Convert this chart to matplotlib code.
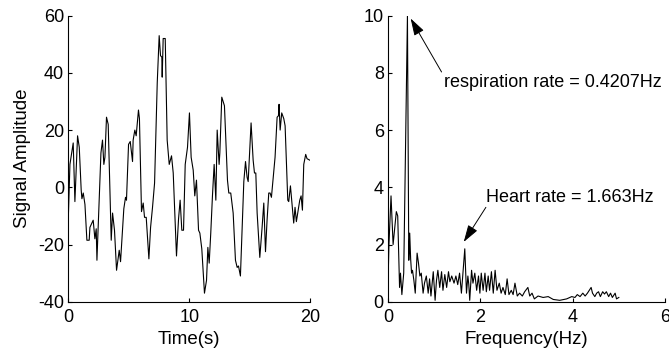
import matplotlib.pyplot as plt

plt.rcParams['font.family'] = ['Liberation Sans', 'DejaVu Sans']
plt.rcParams['axes.unicode_minus'] = False

# time signal
t = [0.0, 0.14, 0.41, 0.55, 0.77, 0.91, 1.07, 1.13, 1.24, 1.38, 1.54, 1.73, 1.79,
     2.06, 2.20, 2.31, 2.37, 2.70, 2.83, 2.94, 3.03, 3.16, 3.30, 3.55, 3.66, 3.82,
     3.99, 4.21, 4.32, 4.59, 4.73, 4.81, 4.98, 5.12, 5.31, 5.36, 5.50, 5.61, 5.80,
     5.88, 6.05, 6.19, 6.30, 6.44, 6.66, 6.80, 6.96, 7.13, 7.35, 7.51, 7.62, 7.73,
     7.76, 7.84, 8.01, 8.17, 8.34, 8.53, 8.67, 8.94, 9.11, 9.24, 9.38, 9.52, 9.66,
     9.85, 10.01, 10.15, 10.32, 10.45, 10.59, 10.76, 10.87, 11.03, 11.25, 11.42,
     11.53, 11.64, 11.77, 11.91, 12.05, 12.19, 12.30, 12.46, 12.52, 12.68, 12.90,
     13.15, 13.26, 13.42, 13.62, 13.81, 13.95, 14.06, 14.22, 14.36, 14.50, 14.64,
     14.77, 14.86, 15.10, 15.27, 15.38, 15.49, 15.60, 15.82, 16.01, 16.15, 16.29,
     16.42, 16.56, 16.67, 16.78, 17.08, 17.25, 17.36, 17.41, 17.50, 17.63, 17.80,
     17.91, 18.13, 18.21, 18.35, 18.51, 18.62, 18.73, 18.84, 19.12, 19.23, 19.34,
     19.45, 19.61, 19.72, 19.94]
amp = [-11.5, 8, 15.5, -5, 18, 14, -1, -4, -2, -6, -18.5, -18.5, -14,
       -11.5, -18, -14.5, -25.5, 12, 16.5, 8, 10.5, 24.5, 22, -18.5, -9, -15,
       -29, -22, -26, -7.5, -3.5, -4.5, 15, 16, 9, 16.5, 20, 18, 27,
       24, -8.5, -5.5, -10.5, -10.5, -25, -14, -7, 1.5, 36.5, 53, 46, 45.5,
       38.5, 52, 52, 16.5, 8, 11, 5, -24, -11, -4.5, -15, -15, 8,
       14, 26, 10.5, 6, -3, 2.5, -15, -16, -21.5, -37, -32.5,
       -21, -26.5, -16, -3, 8, -4.5, 20, 8, 12, 31.5, 28.5,
       2.5, -2, -2, -9, -25.5, -28, -27.5, -31, -15, 2, 9,
       3.5, 2, 22.5, 9.5, 5, 5, -9, -24.5, -14, -5.5, -22.5,
       -11.5, -2, -2, -3.5, 10.5, 24.5, 25, 29, 20, 26, 24,
       21.5, -4.5, -5, 0.5, -7, -12.5, -7, -12, -4.5, -3, -8,
       8, 11.5, 10, 9.5]

# spectrum
freq = [0.0, 0.02, 0.065, 0.11, 0.18, 0.21, 0.25, 0.27, 0.30, 0.34, 0.4207, 0.45,
        0.47, 0.49, 0.51, 0.53, 0.56, 0.59, 0.63, 0.66, 0.69, 0.72, 0.76, 0.79,
        0.83, 0.87, 0.90, 0.93, 0.98, 1.02, 1.05, 1.08, 1.12, 1.16, 1.19, 1.23,
        1.27, 1.31, 1.34, 1.38, 1.43, 1.47, 1.51, 1.55, 1.59, 1.663, 1.70, 1.73,
        1.75, 1.77, 1.81, 1.84, 1.88, 1.92, 1.96, 1.99, 2.02, 2.06, 2.10, 2.13,
        2.17, 2.20, 2.24, 2.28, 2.32, 2.36, 2.41, 2.45, 2.49, 2.54, 2.58, 2.62,
        2.67, 2.71, 2.75, 2.80, 2.85, 2.91, 2.96, 3.03, 3.07, 3.12, 3.17, 3.25,
        3.36, 3.47, 3.58, 3.72, 3.87, 3.98, 4.05, 4.10, 4.16, 4.22, 4.27, 4.32,
        4.36, 4.40, 4.43, 4.48, 4.52, 4.56, 4.60, 4.65, 4.69, 4.73, 4.78, 4.82,
        4.86, 4.92, 4.95, 5.0]
mag = [0.64, 2.0, 3.7, 2.0, 3.15, 3.0, 0.5, 1.0, 0.25, 1.0, 10.0, 1.45,
       2.4, 1.5, 1.0, 1.1, 0.75, 0.3, 1.7, 1.35, 0.9, 1.0, 0.3, 0.65,
       0.9, 0.3, 0.8, 0.2, 1.05, 0.05, 0.75, 1.1, 0.5, 1.05, 0.4, 0.95,
       0.5, 1.05, 0.7, 0.9, 0.65, 0.9, 0.6, 1.0, 0.3, 1.85, 0.3, 0.9,
       0.6, 0.05, 1.1, 0.65, 1.0, 0.4, 0.9, 0.3, 1.0, 0.4, 1.0, 0.35,
       0.9, 0.4, 1.05, 0.3, 1.1, 0.4, 0.65, 0.3, 0.5, 0.25, 0.8, 0.25,
       0.4, 0.25, 0.65, 0.2, 0.3, 0.2, 0.35, 0.5, 0.2, 0.3, 0.1, 0.2,
       0.15, 0.18, 0.08, 0.05, 0.1, 0.18, 0.15, 0.25, 0.18, 0.3, 0.2, 0.3,
       0.4, 0.5, 0.3, 0.18, 0.3, 0.35, 0.18, 0.35, 0.27, 0.35, 0.18, 0.3,
       0.15, 0.3, 0.1, 0.15]

fig = plt.figure(figsize=(6.69, 3.55), dpi=100)
ax1 = fig.add_axes([0.102, 0.150, 0.362, 0.806])
ax2 = fig.add_axes([0.580, 0.150, 0.414, 0.806])

for ax in (ax1, ax2):
    ax.spines['top'].set_visible(False)
    ax.spines['right'].set_visible(False)
    ax.spines['left'].set_linewidth(0.8)
    ax.spines['bottom'].set_linewidth(0.8)
    ax.tick_params(direction='in', length=3, width=0.8, labelsize=13)
    ax.tick_params(axis='x', pad=5)
    ax.tick_params(axis='y', pad=3)

# left: time signal
ax1.plot(t, amp, color='black', linewidth=0.8)
ax1.set_xlim(0, 20)
ax1.set_ylim(-40, 60)
ax1.set_xticks([0, 10, 20])
ax1.set_yticks([-40, -20, 0, 20, 40, 60])
ax1.set_xlabel('Time(s)', fontsize=13.5, labelpad=4)
ax1.set_ylabel('Signal Amplitude', fontsize=13.5, labelpad=5)

# right: spectrum
ax2.plot(freq, mag, color='black', linewidth=0.8)
ax2.set_xlim(0, 6)
ax2.set_ylim(0, 10)
ax2.set_xticks([0, 2, 4, 6])
ax2.set_yticks([0, 2, 4, 6, 8, 10])
ax2.set_xlabel('Frequency(Hz)', fontsize=13.5, labelpad=4)

arrow = dict(arrowstyle='-|>,head_length=0.7,head_width=0.22', color='black',
             linewidth=0.7, mutation_scale=15, shrinkA=0, shrinkB=0)
ax2.text(1.21, 7.65, 'respiration rate = 0.4207Hz', fontsize=13,
         va='center', ha='left')
ax2.annotate('', xy=(0.49, 9.9), xytext=(1.16, 8.03), arrowprops=arrow)
ax2.text(2.12, 3.66, 'Heart rate = 1.663Hz', fontsize=13,
         va='center', ha='left')
ax2.annotate('', xy=(1.64, 2.09), xytext=(2.12, 3.3), arrowprops=arrow)

fig.savefig('out.png', dpi=100)
